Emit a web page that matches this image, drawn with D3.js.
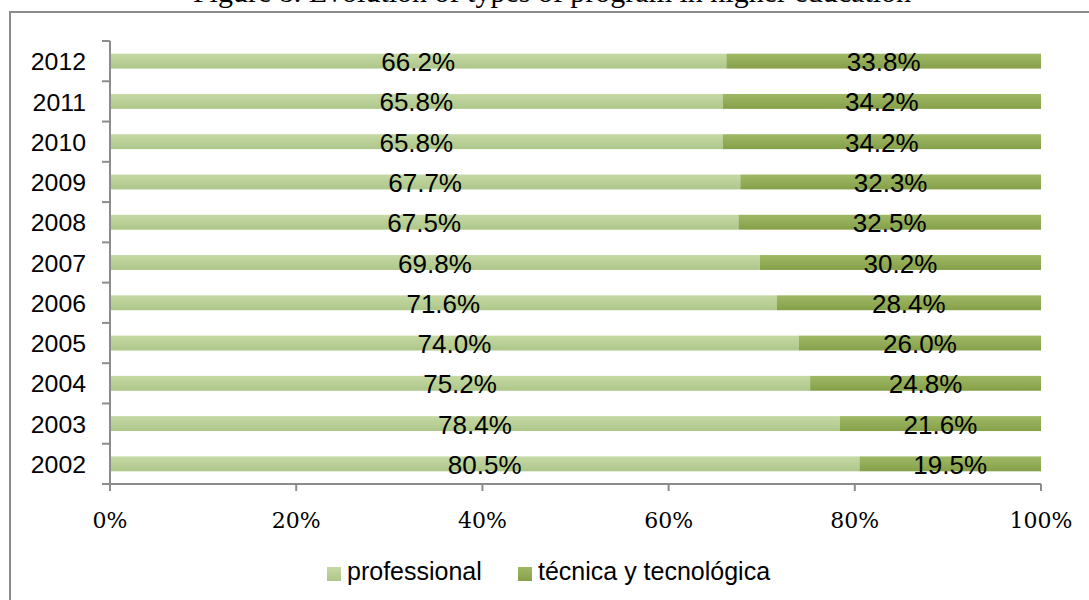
<!DOCTYPE html>
<html><head><meta charset="utf-8">
<script src="https://cdn.jsdelivr.net/npm/d3@7"></script>
<style>body{margin:0;background:#fff}svg{display:block}</style>
</head><body>
<script>
const years = ["2012","2011","2010","2009","2008","2007","2006","2005","2004","2003","2002"];
const professional = [66.2,65.8,65.8,67.7,67.5,69.8,71.6,74.0,75.2,78.4,80.5];
const tecnica = [33.8,34.2,34.2,32.3,32.5,30.2,28.4,26.0,24.8,21.6,19.5];
const seriesNames = ["professional","técnica y tecnológica"];
const xTicks = [0,20,40,60,80,100];
const titleText = "Figure 8. Evolution of types of program in higher education";

const W=1089,H=600;
const svg=d3.select("body").append("svg").attr("width",W).attr("height",H);
const defs=svg.append("defs");
function grad(id,c1,c2){const g=defs.append("linearGradient").attr("id",id).attr("x1",0).attr("y1",0).attr("x2",0).attr("y2",1);
g.append("stop").attr("offset","0%").attr("stop-color",c1);g.append("stop").attr("offset","100%").attr("stop-color",c2);}
grad("gL","#c6d9a5","#adc689");
grad("gD","#9eb866","#86a049");

svg.append("text").attr("x",552).attr("y",2).attr("text-anchor","middle")
 .attr("font-family","Liberation Serif").attr("font-size",30).text(titleText);

svg.append("rect").attr("x",10).attr("y",12).attr("width",1100).attr("height",620)
 .attr("fill","none").attr("stroke","#8c8c8c").attr("stroke-width",2);

const x=d3.scaleLinear().domain([0,100]).range([110,1041]);
const y=d3.scaleBand().domain(years).range([41,484]).paddingInner(0.63).paddingOuter(0.315);
const yb=d3.scaleBand().domain(years).range([41,484]);

const data=years.map((yr,i)=>({yr,p:professional[i],t:tecnica[i]}));
const g=svg.append("g");
g.selectAll("rect.p").data(data).join("rect").attr("x",x(0)).attr("y",d=>y(d.yr))
 .attr("width",d=>x(d.p)-x(0)).attr("height",y.bandwidth()).attr("fill","url(#gL)");
g.selectAll("rect.t").data(data).join("rect").attr("x",d=>x(d.p)).attr("y",d=>y(d.yr))
 .attr("width",d=>x(d.p+d.t)-x(d.p)).attr("height",y.bandwidth()).attr("fill","url(#gD)");

// y axis
const yAx=svg.append("g");
yAx.append("line").attr("x1",110).attr("x2",110).attr("y1",41).attr("y2",484).attr("stroke","#8c8c8c").attr("stroke-width",2);
const bounds=years.map(d=>yb(d)).concat([484]);
yAx.selectAll("line.t").data(bounds).join("line").attr("x1",102).attr("x2",110).attr("y1",d=>d).attr("y2",d=>d).attr("stroke","#8c8c8c").attr("stroke-width",2);
yAx.selectAll("text").data(years).join("text")
 .attr("transform",d=>`translate(86,${yb(d)+yb.bandwidth()/2+1}) scale(1.08,1)`)
 .attr("text-anchor","end").attr("dominant-baseline","central")
 .attr("font-family","Liberation Sans").attr("font-size",23).text(d=>d);

// x axis
const xAx=svg.append("g");
xAx.append("line").attr("x1",110).attr("x2",1041).attr("y1",484).attr("y2",484).attr("stroke","#8c8c8c").attr("stroke-width",2);
xAx.selectAll("line.t").data(xTicks).join("line").attr("x1",d=>x(d)).attr("x2",d=>x(d)).attr("y1",484).attr("y2",491).attr("stroke","#8c8c8c").attr("stroke-width",2);
xAx.selectAll("text").data(xTicks).join("text").attr("x",d=>x(d)).attr("y",528).attr("text-anchor","middle")
 .attr("font-family","DejaVu Serif").attr("font-size",22).text(d=>d+"%");

// labels
const lab=svg.append("g").attr("font-family","Liberation Sans").attr("font-size",26).attr("text-anchor","middle").attr("dominant-baseline","central");
lab.selectAll("text.p").data(data).join("text").attr("x",d=>x(d.p/2)).attr("y",d=>yb(d.yr)+yb.bandwidth()/2+1).text(d=>d.p.toFixed(1)+"%");
lab.selectAll("text.t").data(data).join("text").attr("x",d=>x(d.p+d.t/2)).attr("y",d=>yb(d.yr)+yb.bandwidth()/2+1).text(d=>d.t.toFixed(1)+"%");

// legend
const leg=[{n:seriesNames[0],f:"url(#gL)",x:327},{n:seriesNames[1],f:"url(#gD)",x:518}];
const lg=svg.append("g");
lg.selectAll("rect").data(leg).join("rect").attr("x",d=>d.x).attr("y",567).attr("width",14).attr("height",14).attr("fill",d=>d.f);
lg.selectAll("text").data(leg).join("text").attr("x",d=>d.x+20).attr("y",580)
 .attr("font-family","Liberation Sans").attr("font-size",25).text(d=>d.n);
</script>
</body></html>
